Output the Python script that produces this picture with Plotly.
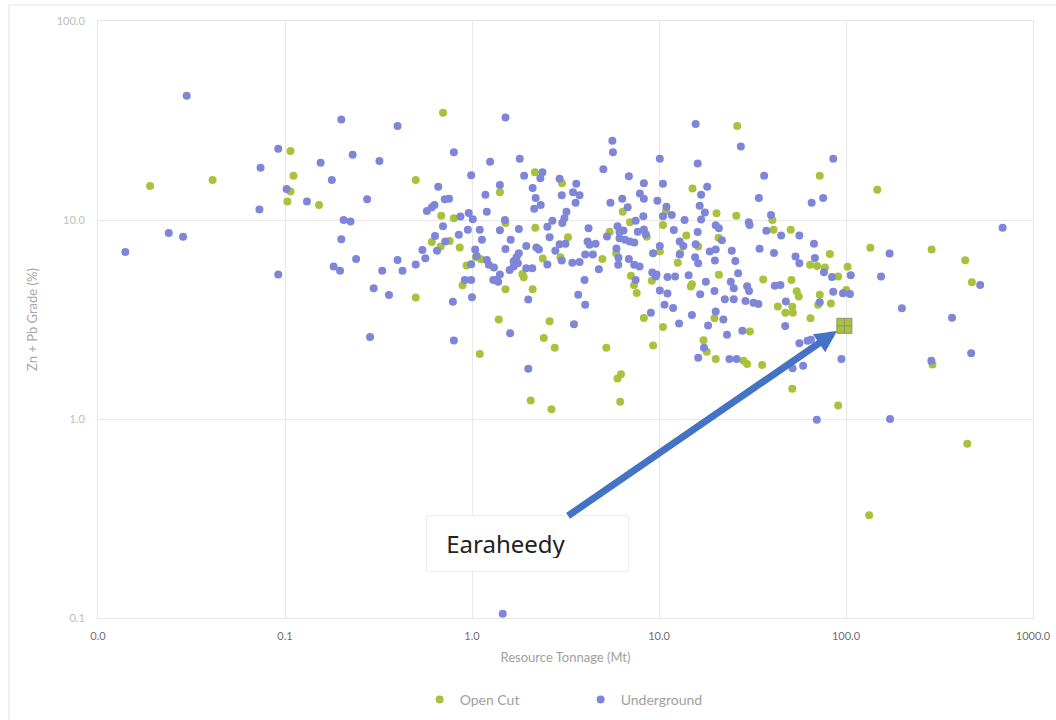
import math
import plotly.graph_objects as go

# ---------------- data ----------------
oc_tonnage = [0.019, 0.041, 0.107, 0.111, 0.107, 0.103, 0.152,
              0.70, 0.50, 2.17, 3.03, 15.1, 1.41, 20.3, 6.4, 10.9, 10.5, 1.51, 0.685, 0.80,
              2.18, 5.45, 7.0, 8.6, 14.0, 3.26, 2.39, 1.05, 1.12, 0.935, 0.86, 0.76, 0.68, 0.61,
              2.97, 4.98, 7.08, 7.35, 7.6, 10.1, 12.6, 16.2, 20.9, 9.15, 15.0, 14.8, 8.3, 10.5,
              19.8, 2.6, 2.11, 1.39, 1.51, 1.89, 1.86, 0.89, 0.50, 2.42, 17.3, 5.9, 13.0,
              26.2, 72.4, 147, 40.4, 25.9, 41.0, 50.6, 20.8, 135, 287, 434, 82, 64.3, 70.1, 77.2,
              102, 90.8, 36.1, 51.1, 54.5, 55.9, 100.5, 471, 72.4, 83, 70.9, 43.2, 51.6, 47.4,
              52.0, 64.6, 30.6,
              1.10, 2.77, 5.23, 9.3, 18.0, 20.1, 6.26, 6.0, 2.06, 2.66, 6.2,
              28.3, 29.6, 35.6, 51.6, 90.8, 445, 133, 290]
oc_grade = [14.8, 15.9, 22.2, 16.7, 13.9, 12.4, 11.9,
            34.6, 15.9, 17.4, 15.3, 14.4, 13.8, 10.8, 11.0, 11.1, 9.45, 9.65, 10.5, 10.2,
            9.15, 8.73, 9.75, 8.23, 8.35, 8.2, 6.4, 6.5, 6.35, 5.9, 7.27, 7.85, 7.35, 7.75,
            6.5, 6.37, 5.25, 4.7, 4.3, 6.95, 6.1, 7.35, 5.3, 4.95, 4.75, 4.63, 3.22, 2.9,
            3.21, 3.1, 4.49, 3.16, 4.49, 5.15, 5.35, 4.7, 4.08, 2.55, 2.49, 6.8, 6.8,
            29.7, 16.7, 14.2, 10.0, 10.5, 8.93, 8.93, 8.15, 7.25, 7.1, 6.28, 6.74, 5.95, 5.88, 5.77,
            5.83, 5.2, 5.02, 4.99, 4.38, 4.13, 4.45, 4.86, 4.21, 3.8, 3.75, 3.68, 3.66, 3.42,
            3.42, 3.21, 2.75,
            2.12, 2.28, 2.28, 2.34, 2.18, 2.0, 1.68, 1.60, 1.24, 1.12, 1.22,
            1.96, 1.89, 1.87, 1.42, 1.17, 0.75, 0.328, 1.88]

ug_tonnage = [0.0298, 0.200, 0.40, 0.092, 0.23, 0.155, 0.32, 0.074, 0.178, 0.102, 0.131, 0.275,
              0.073, 0.206, 0.224, 0.0239, 0.0285, 0.014, 0.200, 0.24, 0.40, 0.182, 0.197, 0.331,
              0.425, 0.298, 0.36, 0.092, 0.285,
              1.51, 15.7, 0.80, 5.63, 5.67, 1.25, 1.80, 10.1, 16.1, 5.04, 0.99, 1.90, 2.38, 2.32,
              2.94, 6.9, 8.3, 10.5, 18.1, 0.66, 1.41, 2.11, 3.61, 3.47, 3.76, 3.58, 3.02, 1.18,
              0.715, 0.754, 0.63, 0.61, 0.574, 2.19, 2.33, 2.15, 6.36, 5.5, 7.9, 8.3, 9.8, 16.8,
              16.5, 17.6, 16.8, 6.8, 10.95, 10.5, 11.7, 13.7, 1.20, 3.2, 3.12, 3.04, 2.69, 2.53,
              1.50, 0.867, 0.96, 1.01, 0.70, 0.634, 0.95, 0.85, 1.10, 1.13, 1.41, 1.78, 4.2, 6.0,
              6.15, 6.46, 7.5, 8.25, 7.7, 8.3, 8.5, 12.0, 16.1, 20.1, 20.9, 5.27, 6.15, 6.58, 6.97,
              7.38, 4.15, 4.58, 4.25, 2.94, 3.16, 2.79, 2.6, 1.95, 1.61, 1.51, 2.21, 2.28, 1.78,
              1.73, 1.67, 2.53, 1.04, 1.06, 1.20, 1.23, 1.31, 0.99, 0.72, 0.65, 0.543, 0.563, 0.50,
              3.02, 3.44, 3.76, 4.03, 4.43, 4.77, 5.92, 6.07, 6.05, 6.9, 7.37, 7.87, 7.5, 9.3,
              10.1, 12.9, 13.5, 12.9, 15.6, 16.2, 15.7, 18.7, 20.1, 19.9, 9.2, 9.7, 9.6, 11.1,
              12.2, 14.4, 17.8, 10.1, 11.1, 16.6, 19.8, 10.7, 11.9, 15.0, 9.05, 12.8, 18.3, 4.0,
              3.7, 4.03, 3.51, 2.0, 1.60, 1.41, 1.35, 1.30, 1.38, 1.95, 2.1, 1.59, 1.67, 1.76,
              0.915, 0.99, 1.0, 0.79, 0.80,
              27.4, 85.5, 36.5, 34.2, 75.5, 65.5, 39.7, 30.2, 30.5, 37.5, 45.0, 56.3, 688, 21.7,
              67.4, 24.5, 34.5, 41.2, 171, 25.6, 53.7, 56.3, 68.2, 106, 26.5, 76.2, 84.2, 154,
              24.2, 25.1, 29.6, 30.3, 41.6, 44.6, 85.5, 96.4, 105, 522, 22.5, 25.1, 29, 32, 34,
              47.7, 72.4, 199, 369, 20.1, 22.1, 47.3, 27.9, 23.1, 56.3,
              2.0, 17.4, 16.2, 1.46,
              23.8, 26.0, 62.3, 65, 51.8, 59, 94.5, 69.8, 172, 286, 467]
ug_grade = [42.1, 32.0, 29.7, 22.8, 21.3, 19.4, 19.8, 18.3, 15.9, 14.3, 12.4, 12.7,
            11.3, 9.99, 9.83, 8.6, 8.23, 6.9, 8.0, 6.36, 6.3, 5.84, 5.56, 5.56,
            5.56, 4.54, 4.2, 5.32, 2.58,
            32.7, 30.4, 21.9, 25.0, 21.9, 19.6, 20.3, 20.3, 19.2, 18.0, 16.8, 16.7, 17.4, 16.2,
            16.1, 16.6, 15.3, 15.2, 14.7, 14.7, 15.0, 14.5, 15.2, 13.8, 13.3, 12.2, 13.3, 13.4,
            12.7, 12.8, 11.9, 11.6, 11.1, 12.9, 11.9, 11.4, 12.8, 12.2, 13.6, 12.8, 12.5, 13.4,
            11.8, 10.9, 10.06, 11.6, 11.65, 10.45, 10.6, 10.0, 11.0, 11.0, 10.2, 9.65, 9.92, 9.25,
            10.0, 10.4, 10.85, 10.1, 9.3, 8.3, 8.93, 8.43, 8.93, 7.96, 8.88, 9.0, 9.1, 9.3,
            8.7, 8.86, 9.92, 10.45, 8.73, 8.97, 8.48, 8.9, 8.7, 9.4, 9.1, 8.26, 8.1, 7.95, 7.8,
            7.7, 7.8, 7.6, 7.5, 7.55, 7.6, 7.0, 8.2, 7.4, 7.95, 7.15, 7.28, 7.1, 6.8,
            6.5, 6.2, 5.98, 7.1, 6.6, 6.3, 5.95, 5.77, 6.0, 7.8, 7.0, 7.07, 6.43, 5.98,
            6.25, 6.1, 6.15, 6.7, 6.7, 5.65, 7.2, 6.47, 5.95, 6.37, 5.95, 5.84, 5.0, 6.8,
            7.4, 7.8, 7.4, 6.7, 6.5, 6.07, 7.55, 6.95, 7.1, 6.25, 5.45, 5.33, 5.2, 5.17,
            5.2, 5.27, 4.9, 4.42, 4.27, 4.24, 4.4, 3.75, 3.61, 3.33, 3.42, 3.02, 2.95, 4.99,
            4.21, 3.75, 2.99, 3.98, 2.70, 5.33, 5.0, 5.0, 4.9, 5.73, 5.73, 5.6, 5.84, 6.07,
            4.99, 4.99, 4.09, 3.88, 2.48,
            23.4, 20.3, 16.7, 12.9, 12.9, 12.2, 10.6, 9.75, 9.45, 8.83, 8.35, 8.35, 9.15, 7.9,
            7.6, 7.0, 7.18, 6.83, 6.78, 6.23, 6.55, 6.07, 6.45, 5.28, 5.4, 5.47, 5.17, 5.2,
            4.9, 4.54, 4.65, 4.4, 4.67, 4.71, 4.36, 4.29, 4.25, 4.71, 4.0, 4.0, 3.92, 3.84, 3.78,
            3.89, 3.86, 3.6, 3.23, 3.47, 3.16, 2.93, 2.78, 2.65, 2.40,
            1.79, 2.28, 2.03, 0.105,
            2.0, 2.0, 2.47, 2.5, 1.8, 1.85, 2.0, 0.99, 1.0, 1.96, 2.14]

earaheedy_tonnage = 98.0
earaheedy_grade = 2.94

x_tickvals = [0.01, 0.1, 1, 10, 100, 1000]
x_ticktext = ["0.0", "0.1", "1.0", "10.0", "100.0", "1000.0"]
y_tickvals = [0.1, 1, 10, 100]
y_ticktext = ["0.1", "1.0", "10.0", "100.0"]

GREEN = "#A9C23E"
BLUE = "#7E86D8"
FONT = "Lato"

fig = go.Figure()
fig.add_trace(go.Scatter(x=oc_tonnage, y=oc_grade, mode="markers", name="Open Cut",
                         marker=dict(color=GREEN, size=8, line=dict(width=0))))
fig.add_trace(go.Scatter(x=ug_tonnage, y=ug_grade, mode="markers", name="Underground",
                         marker=dict(color=BLUE, size=8, line=dict(width=0))))
fig.add_trace(go.Scatter(x=[earaheedy_tonnage], y=[earaheedy_grade], mode="markers",
                         showlegend=False,
                         marker=dict(symbol="square-cross", size=15, color=GREEN,
                                     line=dict(color="#8C9470", width=1))))

fig.update_layout(
    width=1056, height=720,
    margin=dict(l=98, r=23, t=21, b=102, autoexpand=False),
    paper_bgcolor="white", plot_bgcolor="white",
    font=dict(family=FONT),
    showlegend=True,
    legend=dict(orientation="h", x=0.344, xanchor="left", y=-0.137, yanchor="middle",
                font=dict(family=FONT, size=14, color="#A0A0A0"),
                entrywidth=116, entrywidthmode="pixels"),
    xaxis=dict(type="log", range=[-2, 3], tickvals=x_tickvals, ticktext=x_ticktext,
               automargin=False,
               showgrid=True, gridcolor="#E8E8E8", gridwidth=1, zeroline=False,
               showline=True, linecolor="#E6E6E6", mirror=True, ticks="",
               tickfont=dict(family=FONT, size=11, color="#707070"),
               ticklabelstandoff=8,
               title=dict(text="Resource Tonnage (Mt)", standoff=11,
                          font=dict(family=FONT, size=13, color="#A0A0A0"))),
    yaxis=dict(type="log", range=[-1, 2], tickvals=y_tickvals, ticktext=y_ticktext,
               automargin=False,
               showgrid=True, gridcolor="#E8E8E8", gridwidth=1, zeroline=False,
               showline=True, linecolor="#E6E6E6", mirror=True, ticks="",
               tickfont=dict(family=FONT, size=11, color="#BDBDBD"),
               ticklabelstandoff=10,
               title=dict(text="Zn + Pb Grade (%)", standoff=16,
                          font=dict(family=FONT, size=13, color="#A8A8A8"))),
)

# outer frame (left/top edges visible)
fig.add_shape(type="rect", xref="paper", yref="paper",
              x0=-0.0952, x1=1.06, y0=-0.22, y1=1.0268,
              line=dict(color="#E3E3E3", width=1), fillcolor="rgba(0,0,0,0)", layer="below")

# Earaheedy callout with arrow
fig.add_annotation(
    x=math.log10(earaheedy_tonnage), y=math.log10(earaheedy_grade), xref="x", yref="y",
    ax=-317, ay=218, axref="pixel", ayref="pixel",
    text="&nbsp;Earaheedy", showarrow=True, arrowhead=2, arrowsize=0.62, arrowwidth=7,
    arrowcolor="#4472C4", standoff=9,
    font=dict(family="Noto Sans", size=24, color="#222222"),
    bgcolor="white", bordercolor="#EEEEEE", borderwidth=1, borderpad=13,
    width=175, height=29, align="left",
)

fig.write_html("out.html")
